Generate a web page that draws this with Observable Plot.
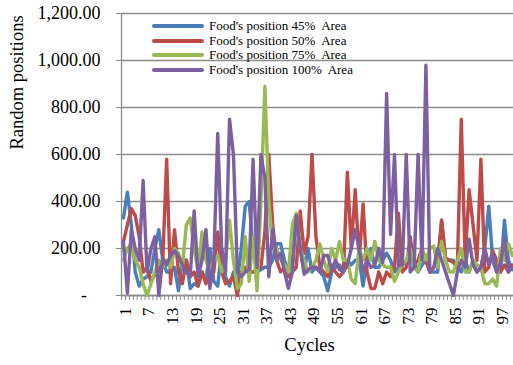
<!DOCTYPE html>
<html>
<head>
<meta charset="utf-8">
<script src="https://cdn.jsdelivr.net/npm/d3@7"></script>
<script src="https://cdn.jsdelivr.net/npm/@observablehq/plot@0.6"></script>
<style>
  html, body { margin: 0; padding: 0; background: #fff; }
  #wrap { position: relative; width: 513px; height: 365px; overflow: hidden; }
  #legend { position: absolute; left: 152px; top: 18.5px; font-family: "Liberation Serif", "Times New Roman", serif; font-size: 13px; color: #000; }
  .row { display: flex; align-items: center; height: 14.7px; white-space: pre; }
  .sw { width: 52px; height: 4px; border-radius: 2px; margin-right: 5px; }
</style>
</head>
<body>
<div id="wrap"><div id="legend"></div></div>
<script>
const cycles = d3.range(1, 101);
const seriesNames = ["Food's position 45%  Area", "Food's position 50%  Area", "Food's position 75%  Area", "Food's position 100%  Area"];
const seriesColors = ["#4a7ebb", "#be4b48", "#98b954", "#7d60a0"];

const area45 = [330,440,300,100,40,70,80,100,200,280, 150,100,100,120,20,150,150,30,50,40,
  100,60,200,60,40,200,80,40,100,60, 200,380,400,200,100,110,120,120,150,220,
  220,150,100,150,330,200,100,200,100,120, 100,80,20,100,120,130,100,150,130,150,
  150,40,150,200,120,120,150,180,150,100, 120,150,130,180,150,100,130,150,100,100,
  100,320,150,150,150,120,100,150,100,150, 100,120,200,380,150,100,100,320,150,110];
const area50 = [230,300,370,340,250,100,120,60,90,100, 150,580,50,280,100,50,150,80,100,40,
  100,50,80,100,270,100,50,60,80,0, 100,120,100,100,110,120,270,600,300,150,
  100,120,80,100,120,360,180,250,600,250, 120,100,80,120,100,80,100,525,200,450,
  150,390,100,30,30,100,50,100,80,120, 350,100,120,250,130,150,200,150,100,120,
  150,320,160,150,140,120,750,150,450,300, 150,580,100,120,190,150,100,130,100,130];
const area75 = [150,200,220,150,120,50,0,50,100,150, 120,150,120,200,180,120,300,330,200,100,
  270,150,100,150,170,100,150,320,150,30, 50,250,60,250,20,400,890,400,200,200,
  150,130,100,300,350,200,150,100,120,150, 220,150,100,200,150,230,150,150,70,50,
  200,150,200,150,230,150,130,120,120,60, 100,130,150,200,120,100,200,150,200,210,
  120,230,150,100,100,150,200,100,100,150, 130,120,50,50,70,40,200,150,220,170];
const area100 = [230,10,280,200,150,490,100,200,250,0, 160,130,170,190,170,130,100,80,360,80,
  150,280,30,150,690,200,100,750,600,100, 80,100,110,580,120,600,500,80,280,150,
  180,100,30,100,340,200,90,110,120,120, 100,170,170,110,150,110,100,130,200,280,
  200,100,150,120,130,200,140,860,260,600, 130,130,600,100,120,600,150,980,100,120,
  200,150,100,50,0,100,150,120,240,130, 100,120,200,130,180,100,140,240,100,120];

const yTicks = [0, 200, 400, 600, 800, 1000, 1200];
const xTickLabels = [1, 7, 13, 19, 25, 31, 37, 43, 49, 55, 61, 67, 73, 79, 85, 91, 97];
const boundaries = d3.range(0.5, 101, 1);

const allValues = [area45, area50, area75, area100];
const data = allValues.flatMap((vals, i) => vals.map((v, j) => ({cycle: cycles[j], value: v, series: seriesNames[i]})));

const grid = "#8c8c8c";
const chart = Plot.plot({
  width: 513, height: 365,
  marginLeft: 121, marginRight: 0, marginTop: 13, marginBottom: 70,
  x: {domain: [0.5, 100.3], axis: null},
  y: {domain: [0, 1200], axis: null},
  color: {domain: seriesNames, range: seriesColors},
  style: {fontFamily: "'Liberation Serif', 'Times New Roman', serif", background: "white", color: "black"},
  marks: [
    Plot.gridY(yTicks, {stroke: grid, strokeOpacity: 1, strokeWidth: 1.3}),
    Plot.axisY(yTicks, {tickSize: 5, tickPadding: 16, stroke: grid, fill: "black", fontSize: 18,
      tickFormat: d => d === 0 ? "-\u00a0\u00a0\u00a0" : d3.format(",.2f")(d), label: null}),
    Plot.axisX(boundaries, {tickSize: 5, tickFormat: () => "", stroke: grid, label: null}),
    Plot.axisX(xTickLabels, {tickSize: 0, tickPadding: 12, tickRotate: -90, fontSize: 17, fill: "black", dx: 2, label: null}),
    Plot.ruleX([0.5], {stroke: grid, strokeWidth: 1.3}),
    Plot.ruleY([0], {stroke: grid, strokeWidth: 1.3}),
    Plot.line(data, {x: "cycle", y: "value", z: "series", stroke: "series", strokeWidth: 3.4, strokeLinejoin: "round"}),
    Plot.text(["Random positions"], {frameAnchor: "left", dx: -104, dy: -5, rotate: -90, fontSize: 18.5, fill: "black"}),
    Plot.text(["Cycles"], {frameAnchor: "bottom", dx: -8, dy: 55, fontSize: 18.5, fill: "black"})
  ]
});
const wrap = document.getElementById("wrap");
wrap.insertBefore(chart, wrap.firstChild);

const legend = document.getElementById("legend");
seriesNames.forEach((name, i) => {
  const row = document.createElement("div");
  row.className = "row";
  const sw = document.createElement("span");
  sw.className = "sw";
  sw.style.background = seriesColors[i];
  const t = document.createElement("span");
  t.textContent = name;
  row.appendChild(sw);
  row.appendChild(t);
  legend.appendChild(row);
});
</script>
</body>
</html>
